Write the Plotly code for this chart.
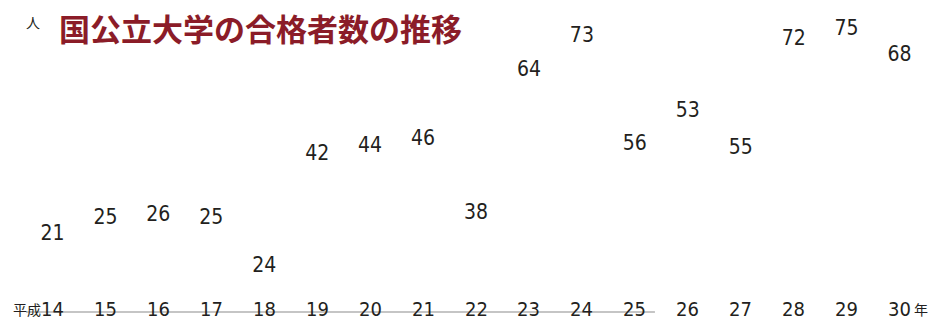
import plotly.graph_objects as go

years = ["14", "15", "16", "17", "18", "19", "20", "21", "22", "23", "24", "25", "26", "27", "28", "29", "30"]
passers = [21, 25, 26, 25, 24, 42, 44, 46, 38, 64, 73, 56, 53, 55, 72, 75, 68]
# heights of the (invisible) bars on which the labels sit
bar_heights = [64, 80, 83, 80, 32, 144, 152, 159, 85, 228, 262, 154, 187, 150, 259, 269, 243]

NUM_FONT = "Liberation Sans Narrow, DejaVu Sans Condensed, Roboto, sans-serif"
JP_FONT = "Noto Sans CJK JP, Noto Sans CJK SC, sans-serif"
TEXT_COLOR = "#231f20"
TITLE_COLOR = "#8b1c28"

xs = list(range(len(years)))

fig = go.Figure()
fig.add_trace(go.Bar(
    x=xs, y=bar_heights,
    marker=dict(color="rgba(0,0,0,0)", line=dict(width=0)),
    text=[str(v) for v in passers],
    textposition="outside",
    constraintext="none",
    textfont=dict(family=NUM_FONT, size=21, color=TEXT_COLOR),
    cliponaxis=False,
    hoverinfo="skip",
    showlegend=False,
))

# baseline
fig.add_shape(type="line", xref="x", yref="y", x0=-0.98, x1=11.38, y0=0, y1=0,
              line=dict(color="#8c8c8c", width=1.2))

# category labels on the baseline
for xi, yr in zip(xs, years):
    fig.add_annotation(x=xi, y=3, xref="x", yref="y", text=yr, showarrow=False,
                       font=dict(family=NUM_FONT, size=20, color=TEXT_COLOR),
                       xanchor="center", yanchor="middle")

fig.add_annotation(x=xs[0], y=3, xref="x", yref="y", text="平成", showarrow=False,
                   xanchor="right", yanchor="middle", xshift=-9,
                   font=dict(family=JP_FONT, size=14, color=TEXT_COLOR))
fig.add_annotation(x=xs[-1], y=3, xref="x", yref="y", text="年", showarrow=False,
                   xanchor="left", yanchor="middle", xshift=12,
                   font=dict(family=JP_FONT, size=14, color=TEXT_COLOR))

# unit and title
fig.add_annotation(x=0.008, y=0.931, xref="paper", yref="paper", text="人", showarrow=False,
                   xanchor="center", yanchor="middle",
                   font=dict(family=JP_FONT, size=14, color=TEXT_COLOR))
fig.add_annotation(x=0.04, y=0.912, xref="paper", yref="paper", xshift=-5,
                   text="<b>国公立大学の合格者数の推移</b>", showarrow=False,
                   xanchor="left", yanchor="middle",
                   font=dict(family=JP_FONT, size=31, color=TITLE_COLOR))

fig.update_layout(
    width=932, height=318,
    margin=dict(l=26, r=6, t=0, b=0),
    paper_bgcolor="white", plot_bgcolor="white",
    bargap=0.4,
    xaxis=dict(range=[-0.5, len(years) - 0.5], showticklabels=False, showgrid=False,
               zeroline=False, showline=False, ticks=""),
    yaxis=dict(range=[-6, 312], showticklabels=False, showgrid=False, zeroline=False,
               showline=False, ticks=""),
)

fig.write_html("out.html", config={"displayModeBar": False},
               post_script="document.body.style.margin='0';")
